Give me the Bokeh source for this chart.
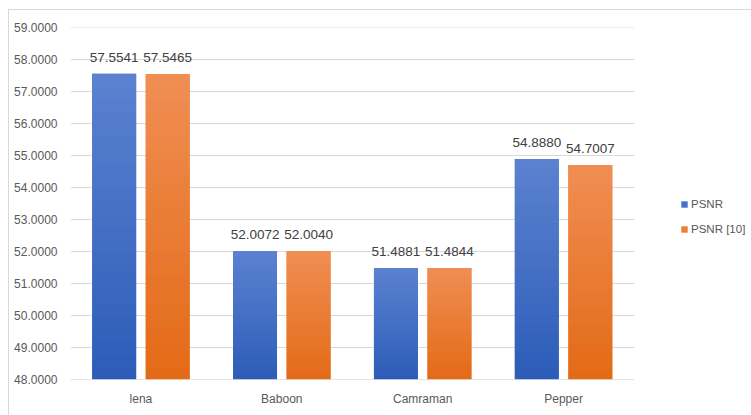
from bokeh.plotting import figure
from bokeh.models import (ColumnDataSource, Range1d, Legend, LegendItem,
                          NumeralTickFormatter, FixedTicker)
from bokeh.core.properties import value
from bokeh.embed import file_html
from bokeh.resources import INLINE

# PSNR comparison per test image
images = ["lena", "Baboon", "Camraman", "Pepper"]
psnr = [57.5541, 52.0072, 51.4881, 54.8880]
psnr_ref = [57.5465, 52.0040, 51.4844, 54.7007]
y_ticks = [48, 49, 50, 51, 52, 53, 54, 55, 56, 57, 58, 59]

Y_MIN, Y_MAX = 48, 59
N = len(images)
FONT = "Liberation Sans"
TEXT_GREY = "#595959"
GRID = "#d9d9d9"

# numeric x axis: category i is centred at i + 0.5; the extra room on the
# right of the last category holds the legend
p = figure(x_range=Range1d(0, 4.8625), y_range=Range1d(Y_MIN, Y_MAX),
           width=746, height=410, output_backend="svg", toolbar_location=None,
           min_border_left=61, min_border_right=0, min_border_top=17,
           min_border_bottom=41)
p.margin = (9, 0, 0, 8)
p.styles = {"border": "1px solid #d9d9d9"}
p.outline_line_color = None
p.background_fill_color = "white"
p.border_fill_color = "white"

centers = [i + 0.5 for i in range(N)]

# horizontal gridlines only across the category area
p.segment(x0=0, x1=N, y0=y_ticks, y1=y_ticks, line_color=GRID, line_width=1)

BAR_W = 0.312
OFFSET = 0.19


def lerp(c1, c2, t):
    return "#%02x%02x%02x" % tuple(round(a + (b - a) * t) for a, b in zip(c1, c2))


def gradient_bars(values, offset, bottom_rgb, top_rgb, base_color, n=24):
    xs0 = [c + offset for c in centers]
    # solid base bar (used for the legend) with a vertical gradient on top
    base = ColumnDataSource(dict(x=xs0, top=values))
    r = p.vbar(x="x", top="top", bottom=Y_MIN, width=BAR_W, source=base,
               fill_color=base_color, line_color=None)
    xs, bots, tops, cols = [], [], [], []
    for x, v in zip(xs0, values):
        h = v - Y_MIN
        for k in range(n):
            xs.append(x)
            bots.append(Y_MIN + h * k / n)
            tops.append(min(v, Y_MIN + h * (k + 1) / n + h * 0.002))
            cols.append(lerp(bottom_rgb, top_rgb, (k + 0.5) / n))
    seg = ColumnDataSource(dict(x=xs, bottom=bots, top=tops, color=cols))
    p.vbar(x="x", top="top", bottom="bottom", width=BAR_W, source=seg,
           fill_color="color", line_color=None)
    labels = ColumnDataSource(dict(x=xs0, y=values,
                                   t=["%.4f" % v for v in values]))
    p.text(x="x", y="y", text="t", source=labels,
           text_align="center", text_baseline="bottom", y_offset=-12,
           text_font=value(FONT), text_font_size="13.5px", text_color="#404040")
    return r


r1 = gradient_bars(psnr, -OFFSET, (44, 92, 184), (92, 130, 208), "#4472C4")
r2 = gradient_bars(psnr_ref, OFFSET, (227, 106, 22), (240, 142, 84), "#ED7D31")

# category baseline
p.segment(x0=0, x1=N, y0=Y_MIN, y1=Y_MIN, line_color=GRID, line_width=1)

# axes
p.xgrid.grid_line_color = None
p.ygrid.grid_line_color = None
p.yaxis.ticker = FixedTicker(ticks=y_ticks)
p.yaxis.formatter = NumeralTickFormatter(format="0.0000")
p.xaxis.ticker = FixedTicker(ticks=centers)
p.xaxis.major_label_overrides = {c: name for c, name in zip(centers, images)}
for ax in (p.xaxis[0], p.yaxis[0]):
    ax.axis_line_color = None
    ax.major_tick_line_color = None
    ax.minor_tick_line_color = None
    ax.major_tick_out = 0
    ax.major_tick_in = 0
    ax.minor_tick_out = 0
    ax.major_label_text_font = FONT
    ax.major_label_text_font_size = "12px"
    ax.major_label_text_color = TEXT_GREY
p.yaxis.major_label_standoff = 13
p.xaxis.major_label_standoff = 12

legend = Legend(items=[LegendItem(label="PSNR", renderers=[r1]),
                       LegendItem(label="PSNR [10]", renderers=[r2])],
                location=(610, 141), border_line_color=None,
                background_fill_alpha=0,
                glyph_width=8, glyph_height=8, label_height=18, spacing=7,
                label_text_font=FONT, label_text_font_size="11.5px",
                label_text_color=TEXT_GREY, label_standoff=3, padding=4)
p.add_layout(legend, "center")

open("out.html", "w").write(file_html(p, INLINE))
